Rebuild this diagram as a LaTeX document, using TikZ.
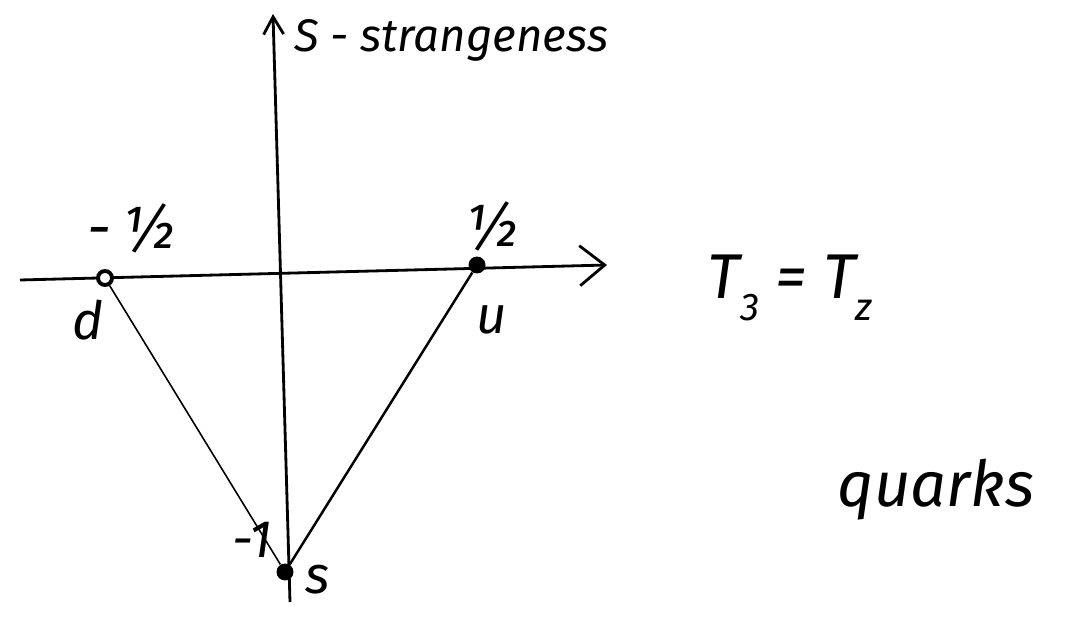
\documentclass[tikz,border=0pt]{standalone}
\usepackage{fontspec}
\setmainfont{Fira Sans}
\usetikzlibrary{positioning,arrows.meta}
\newcommand{\lowsub}[1]{\raisebox{-0.35em}{\fontsize{22}{24}\selectfont #1}}
\begin{document}
\begin{tikzpicture}[
  x=0.02cm, y=-0.02cm,
  axis/.style={line width=1.6pt, draw=black},
  quark/.style={circle, fill=black, inner sep=0pt, minimum size=0.34cm},
  hand/.style={font=\itshape\fontsize{30}{34}\selectfont, inner sep=1pt},
  leg/.style={draw=black}
]
\useasboundingbox (0,0) rectangle (1079,618);
% Achsen
\coordinate (xstart) at (20,280);
\coordinate (xend) at (607,265);
\coordinate (ystart) at (290,602);
\coordinate (yend) at (273,14);
\draw[axis, -{Straight Barb[length=5mm,width=8mm]}] (xstart) -- (xend);
\draw[axis, -{Straight Barb[length=3.5mm,width=4mm]}] (ystart) -- (yend);

% Quarks
\node[quark, draw, fill=white, line width=2.2pt, minimum size=0.28cm] (d) at (105,278) {};
\node[quark] (u) at (477,265) {};
\node[quark] (s) at (285,572) {};
\draw[leg, line width=0.9pt] (d) -- (s);
\draw[leg, line width=1.4pt] (u) -- (s);

% Beschriftungen
\node[hand, font=\itshape\fontsize{26}{30}\selectfont, anchor=west] (ylab) at (292,40) {S - strangeness};
\node[hand, font=\itshape\fontsize{34}{38}\selectfont] (dval) at (132,228) {-\,½};
\node[hand, font=\itshape\fontsize{34}{38}\selectfont] (uval) at (492,226) {½};
\node[hand] (dlab) at (88,320) {d};
\node[hand] (ulab) at (492,320) {u};
\node[hand] (sval) at (252,540) {-1};
\node[hand] (slab) at (318,580) {s};
\node[hand, font=\itshape\fontsize{36}{40}\selectfont] (xlab) at (790,288) {T\lowsub{3} = T\lowsub{z}};
\node[hand, font=\itshape\fontsize{36}{40}\selectfont] (note) at (936,490) {quarks};
\end{tikzpicture}
\end{document}
